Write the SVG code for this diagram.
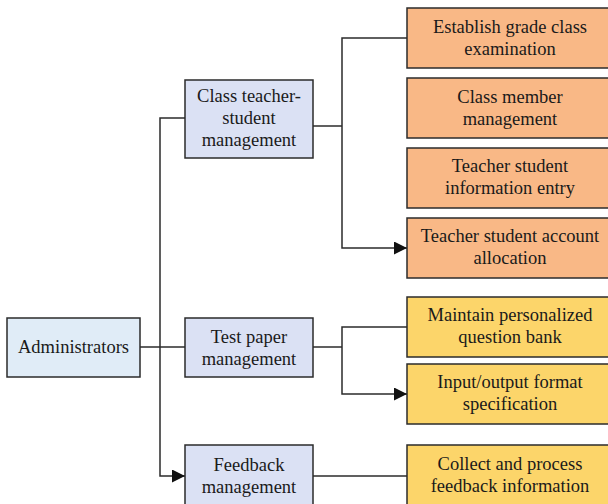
<svg xmlns="http://www.w3.org/2000/svg" width="608" height="504" viewBox="0 0 608 504">
<style>
rect{stroke:#2b2b2b;stroke-width:1.5}
.adm{fill:#e0ecf7}
.mid{fill:#dbe1f4}
.org{fill:#f9b886}
.yel{fill:#fcd56a}
text{font-family:"Liberation Serif","Times New Roman",serif;font-size:18.5px;fill:#1a1a1a;text-anchor:middle}
.conn path{fill:none;stroke:#2b2b2b;stroke-width:1.5}
</style>
<defs>
<marker id="arr" viewBox="0 0 12 12" refX="12" refY="6" markerWidth="13" markerHeight="13" markerUnits="userSpaceOnUse" orient="auto">
<path d="M0,0 L12,6 L0,12 Z" fill="#111"/>
</marker>
</defs>
<rect x="0" y="0" width="608" height="504" fill="#fff" style="stroke:none"/>
<g class="conn">
<path d="M140,347 H185"/>
<path d="M185,118 H160 V476 H185" marker-end="url(#arr)"/>
<path d="M313,126 H342"/>
<path d="M407,38 H342 V248 H407" marker-end="url(#arr)"/>
<path d="M313,347 H342"/>
<path d="M407,327 H342 V394 H407" marker-end="url(#arr)"/>
<path d="M313,476 H407"/>
</g>
<g id="admin"><rect class="adm" x="7" y="318" width="133" height="59"/><text x="73.5" y="353">Administrators</text></g>
<g id="class"><rect class="mid" x="185" y="80" width="128" height="78"/><text x="249" y="102">Class teacher-</text><text x="249" y="124">student</text><text x="249" y="146">management</text></g>
<g id="test"><rect class="mid" x="185" y="318" width="128" height="59"/><text x="249" y="343">Test paper</text><text x="249" y="365">management</text></g>
<g id="feedback"><rect class="mid" x="185" y="445" width="128" height="66"/><text x="249" y="471">Feedback</text><text x="249" y="493">management</text></g>
<g id="o1"><rect class="org" x="407" y="8" width="206" height="60"/><text x="510" y="33">Establish grade class</text><text x="510" y="55">examination</text></g>
<g id="o2"><rect class="org" x="407" y="78" width="206" height="60"/><text x="510" y="103">Class member</text><text x="510" y="125">management</text></g>
<g id="o3"><rect class="org" x="407" y="148" width="206" height="60"/><text x="510" y="172">Teacher student</text><text x="510" y="194">information entry</text></g>
<g id="o4"><rect class="org" x="407" y="218" width="206" height="60"/><text x="510" y="242">Teacher student account</text><text x="510" y="264">allocation</text></g>
<g id="y1"><rect class="yel" x="407" y="297" width="206" height="60"/><text x="510" y="321">Maintain personalized</text><text x="510" y="343">question bank</text></g>
<g id="y2"><rect class="yel" x="407" y="364" width="206" height="60"/><text x="510" y="388">Input/output format</text><text x="510" y="410">specification</text></g>
<g id="y3"><rect class="yel" x="407" y="445" width="206" height="66"/><text x="510" y="470">Collect and process</text><text x="510" y="492">feedback information</text></g>
</svg>
